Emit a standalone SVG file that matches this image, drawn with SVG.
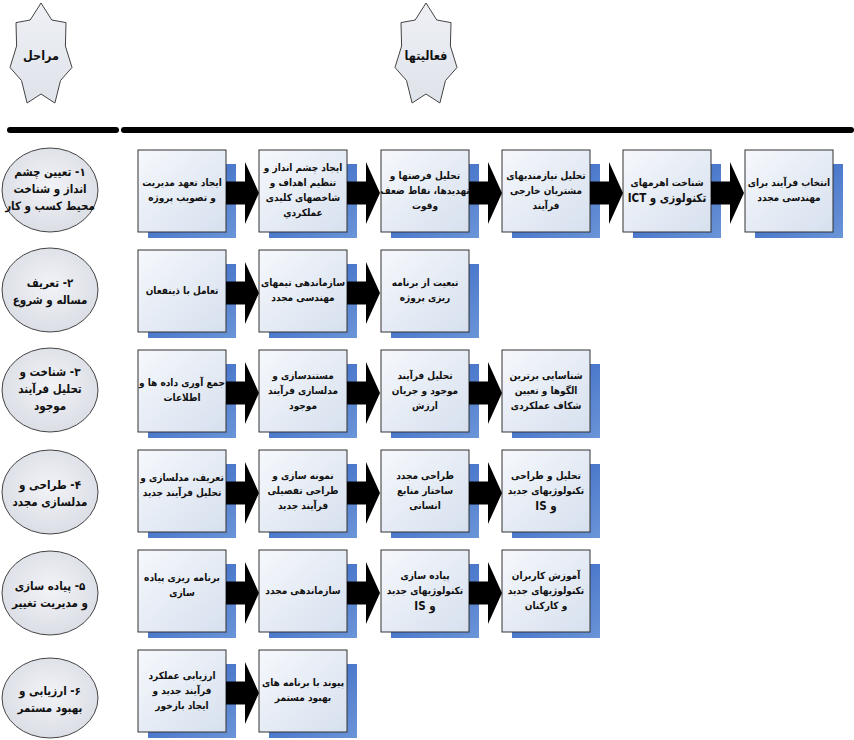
<svg xmlns="http://www.w3.org/2000/svg" width="854" height="740" viewBox="0 0 854 740">
<defs>
<linearGradient id="boxg" x1="0" y1="0" x2="1" y2="1"><stop offset="0" stop-color="#f6f8fc"/><stop offset="1" stop-color="#d6e0ee"/></linearGradient>
<linearGradient id="shg" x1="0" y1="0" x2="1" y2="1"><stop offset="0" stop-color="#2f5fbf"/><stop offset="1" stop-color="#6b95d8"/></linearGradient>
<radialGradient id="ovg" cx="0.5" cy="0.45" r="0.6"><stop offset="0" stop-color="#f2f3f7"/><stop offset="1" stop-color="#d9dce4"/></radialGradient>
<linearGradient id="stg" x1="0" y1="0" x2="0" y2="1"><stop offset="0" stop-color="#eef0f5"/><stop offset="1" stop-color="#dfe3ea"/></linearGradient>
<polygon id="starshape" points="0,3 10.8,20 25,22.6 24.4,46 31,67.5 19.5,80.5 13.9,103 0,94 -13.9,103 -19.5,80.5 -31,67.5 -24.4,46 -25,22.6 -10.8,20"/>
</defs>
<style>
.box{fill:url(#boxg);stroke:#333;stroke-width:1}
.sh{fill:url(#shg)}
.ov{fill:url(#ovg);stroke:#444;stroke-width:1}
.star{fill:url(#stg);stroke:#444;stroke-width:1}
.arr{fill:#000}
text{font-family:'DejaVu Sans Condensed','DejaVu Sans',sans-serif;fill:#111;text-anchor:middle;direction:rtl}
.bt{font-size:10px;font-weight:bold}
.ot{font-size:11.5px;font-weight:bold}
.ht{font-size:12.5px;font-weight:bold}
.rule{stroke:#000;stroke-width:6;stroke-linecap:round}
</style>
<rect width="854" height="740" fill="#fff"/>

<g id="header">
<g id="star-marahel">
<use href="#starshape" class="star" x="41" y="0"/>
<text class="ht" x="41" y="60">مراحل</text>
</g>
<g id="star-faaliatha">
<use href="#starshape" class="star" x="426" y="0"/>
<text class="ht" x="426" y="60">فعالیتها</text>
</g>
<line class="rule" x1="10" y1="130" x2="116" y2="130"/>
<line class="rule" x1="124" y1="130" x2="851" y2="130"/>
</g>

<g id="phases">
<g id="phase1"><ellipse class="ov" cx="50" cy="190" rx="48" ry="42"/>
<text class="ot" x="50" y="176">۱- تعیین چشم</text><text class="ot" x="50" y="193">انداز و شناخت</text><text class="ot" x="50" y="210">محیط کسب و کار</text></g>
<g id="phase2"><ellipse class="ov" cx="50" cy="290" rx="48" ry="42"/>
<text class="ot" x="50" y="287">۲- تعریف</text><text class="ot" x="50" y="304">مساله و شروع</text></g>
<g id="phase3"><ellipse class="ov" cx="50" cy="390" rx="48" ry="42"/>
<text class="ot" x="50" y="376">۳- شناخت و</text><text class="ot" x="50" y="393">تحلیل فرآیند</text><text class="ot" x="50" y="410">موجود</text></g>
<g id="phase4"><ellipse class="ov" cx="50" cy="492" rx="48" ry="42"/>
<text class="ot" x="50" y="489">۴- طراحی و</text><text class="ot" x="50" y="506">مدلسازی مجدد</text></g>
<g id="phase5"><ellipse class="ov" cx="50" cy="593" rx="48" ry="42"/>
<text class="ot" x="50" y="590">۵- پیاده سازی</text><text class="ot" x="50" y="607">و مدیریت تغییر</text></g>
<g id="phase6"><ellipse class="ov" cx="50" cy="698" rx="48" ry="40"/>
<text class="ot" x="50" y="695">۶- ارزیابی و</text><text class="ot" x="50" y="712">بهبود مستمر</text></g>
</g>

<g id="activities">
<!-- row 1 -->
<g id="a1-1"><rect class="sh" x="148" y="164" width="88" height="74"/><rect class="box" x="138" y="150" width="88" height="82"/>
<text class="bt" x="182" y="186">ایجاد تعهد مدیریت</text><text class="bt" x="182" y="201">و تصویب پروژه</text></g>
<g id="a1-2"><rect class="sh" x="269" y="164" width="88" height="74"/><rect class="box" x="259" y="150" width="88" height="82"/>
<text class="bt" x="303" y="171">ایجاد چشم انداز و</text><text class="bt" x="303" y="186">تنظیم اهداف و</text><text class="bt" x="303" y="201">شاخصهای کلیدی</text><text class="bt" x="303" y="216">عملکردي</text></g>
<g id="a1-3"><rect class="sh" x="391" y="164" width="88" height="74"/><rect class="box" x="381" y="150" width="88" height="82"/>
<text class="bt" x="425" y="179">تحلیل فرصتها و</text><text class="bt" x="425" y="194">تهدیدها، نقاط ضعف</text><text class="bt" x="425" y="209">وقوت</text></g>
<g id="a1-4"><rect class="sh" x="512" y="164" width="88" height="74"/><rect class="box" x="502" y="150" width="88" height="82"/>
<text class="bt" x="546" y="179">تحلیل نیازمندیهای</text><text class="bt" x="546" y="194">مشتریان خارجی</text><text class="bt" x="546" y="209">فرآیند</text></g>
<g id="a1-5"><rect class="sh" x="633" y="164" width="88" height="74"/><rect class="box" x="623" y="150" width="88" height="82"/>
<text class="bt" x="667" y="186">شناخت اهرمهای</text><text class="bt" x="667" y="202" style="font-size:11.5px">تکنولوزی و ICT</text></g>
<g id="a1-6"><rect class="sh" x="755" y="164" width="88" height="74"/><rect class="box" x="745" y="150" width="88" height="82"/>
<text class="bt" x="789" y="186">انتخاب فرآیند برای</text><text class="bt" x="789" y="201">مهندسی مجدد</text></g>
<!-- row 2 -->
<g id="a2-1"><rect class="sh" x="148" y="264" width="88" height="74"/><rect class="box" x="138" y="250" width="88" height="82"/>
<text class="bt" x="182" y="294">تعامل با ذینفعان</text></g>
<g id="a2-2"><rect class="sh" x="269" y="264" width="88" height="74"/><rect class="box" x="259" y="250" width="88" height="82"/>
<text class="bt" x="303" y="286">سازماندهی تیمهای</text><text class="bt" x="303" y="301">مهندسی مجدد</text></g>
<g id="a2-3"><rect class="sh" x="391" y="264" width="88" height="74"/><rect class="box" x="381" y="250" width="88" height="82"/>
<text class="bt" x="425" y="286">تبعیت از برنامه</text><text class="bt" x="425" y="301">ریزی پروژه</text></g>
<!-- row 3 -->
<g id="a3-1"><rect class="sh" x="148" y="364" width="88" height="74"/><rect class="box" x="138" y="350" width="88" height="82"/>
<text class="bt" x="182" y="386">جمع آوری داده ها و</text><text class="bt" x="182" y="401">اطلاعات</text></g>
<g id="a3-2"><rect class="sh" x="269" y="364" width="88" height="74"/><rect class="box" x="259" y="350" width="88" height="82"/>
<text class="bt" x="303" y="379">مستندسازی و</text><text class="bt" x="303" y="394">مدلسازی فرآیند</text><text class="bt" x="303" y="409">موجود</text></g>
<g id="a3-3"><rect class="sh" x="391" y="364" width="88" height="74"/><rect class="box" x="381" y="350" width="88" height="82"/>
<text class="bt" x="425" y="379">تحلیل فرآیند</text><text class="bt" x="425" y="394">موجود و جریان</text><text class="bt" x="425" y="409">ارزش</text></g>
<g id="a3-4"><rect class="sh" x="512" y="364" width="88" height="74"/><rect class="box" x="502" y="350" width="88" height="82"/>
<text class="bt" x="546" y="379">شناسایی برترین</text><text class="bt" x="546" y="394">الگوها و تعیین</text><text class="bt" x="546" y="409">شکاف عملکردی</text></g>
<!-- row 4 -->
<g id="a4-1"><rect class="sh" x="148" y="464" width="88" height="74"/><rect class="box" x="138" y="450" width="88" height="82"/>
<text class="bt" x="182" y="481">تعریف، مدلسازی و</text><text class="bt" x="182" y="496">تحلیل فرآیند جدید</text></g>
<g id="a4-2"><rect class="sh" x="269" y="464" width="88" height="74"/><rect class="box" x="259" y="450" width="88" height="82"/>
<text class="bt" x="303" y="479">نمونه سازی و</text><text class="bt" x="303" y="494">طراحی تفصیلی</text><text class="bt" x="303" y="509">فرآیند جدید</text></g>
<g id="a4-3"><rect class="sh" x="391" y="464" width="88" height="74"/><rect class="box" x="381" y="450" width="88" height="82"/>
<text class="bt" x="425" y="479">طراحی مجدد</text><text class="bt" x="425" y="494">ساختار منابع</text><text class="bt" x="425" y="509">انسانی</text></g>
<g id="a4-4"><rect class="sh" x="512" y="464" width="88" height="74"/><rect class="box" x="502" y="450" width="88" height="82"/>
<text class="bt" x="546" y="479">تحلیل و طراحی</text><text class="bt" x="546" y="494">تکنولوژیهای جدید</text><text class="bt" x="546" y="510" style="font-size:11.5px">و IS</text></g>
<!-- row 5 -->
<g id="a5-1"><rect class="sh" x="148" y="564" width="88" height="74"/><rect class="box" x="138" y="550" width="88" height="82"/>
<text class="bt" x="182" y="581">برنامه ریزی پیاده</text><text class="bt" x="182" y="596">سازی</text></g>
<g id="a5-2"><rect class="sh" x="269" y="564" width="88" height="74"/><rect class="box" x="259" y="550" width="88" height="82"/>
<text class="bt" x="303" y="594">سازماندهی مجدد</text></g>
<g id="a5-3"><rect class="sh" x="391" y="564" width="88" height="74"/><rect class="box" x="381" y="550" width="88" height="82"/>
<text class="bt" x="425" y="579">پیاده سازی</text><text class="bt" x="425" y="594">تکنولوژیهای جدید</text><text class="bt" x="425" y="610" style="font-size:11.5px">و IS</text></g>
<g id="a5-4"><rect class="sh" x="512" y="564" width="88" height="74"/><rect class="box" x="502" y="550" width="88" height="82"/>
<text class="bt" x="546" y="579">آموزش کاربران</text><text class="bt" x="546" y="594">تکنولوژیهای جدید</text><text class="bt" x="546" y="609">و کارکنان</text></g>
<!-- row 6 -->
<g id="a6-1"><rect class="sh" x="148" y="664" width="88" height="74"/><rect class="box" x="138" y="650" width="88" height="82"/>
<text class="bt" x="182" y="679">ارزیابی عملکرد</text><text class="bt" x="182" y="694">فرآیند جدید و</text><text class="bt" x="182" y="709">ایجاد بازخور</text></g>
<g id="a6-2"><rect class="sh" x="269" y="664" width="88" height="74"/><rect class="box" x="259" y="650" width="88" height="82"/>
<text class="bt" x="303" y="686">پیوند با برنامه های</text><text class="bt" x="303" y="701">بهبود مستمر</text></g>
</g>

<g id="connectors">
<defs><path id="ar" class="arr" d="M0,-11.5 H19 V-31 L33,0 L19,31 V11.5 H0 Z"/></defs>
<use href="#ar" x="226" y="193"/><use href="#ar" x="347" y="193"/><use href="#ar" x="469" y="193"/><use href="#ar" x="590" y="193"/><use href="#ar" x="711" y="193"/>
<use href="#ar" x="226" y="293"/><use href="#ar" x="347" y="293"/>
<use href="#ar" x="226" y="393"/><use href="#ar" x="347" y="393"/><use href="#ar" x="469" y="393"/>
<use href="#ar" x="226" y="493"/><use href="#ar" x="347" y="493"/><use href="#ar" x="469" y="493"/>
<use href="#ar" x="226" y="593"/><use href="#ar" x="347" y="593"/><use href="#ar" x="469" y="593"/>
<use href="#ar" x="226" y="693"/>
</g>
</svg>
